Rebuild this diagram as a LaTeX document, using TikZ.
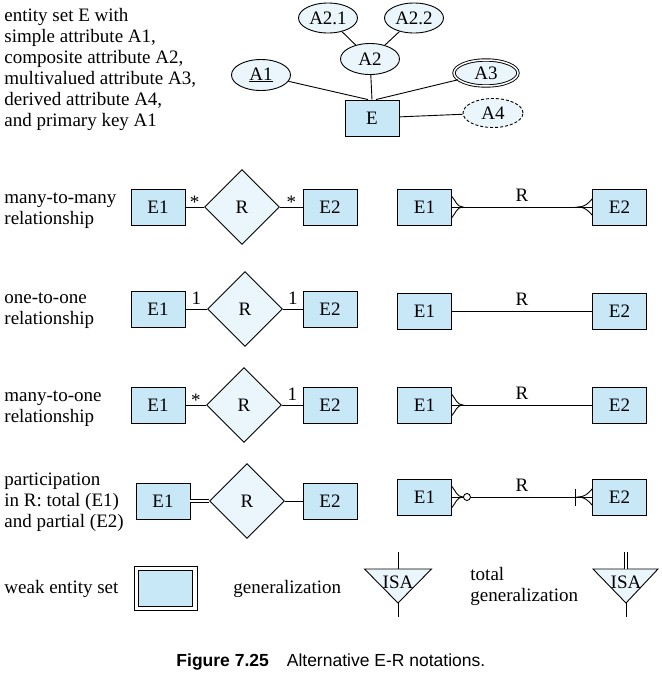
\documentclass[tikz,border=0pt]{standalone}
\usepackage{fontspec}
\setmainfont{Liberation Serif}
\setsansfont{Liberation Sans}
\usetikzlibrary{shapes.geometric,calc}
\definecolor{entblue}{HTML}{C8E8F8}
\definecolor{attrblue}{HTML}{EAF6FC}
\newcommand{\crowfooteast}[1]{\draw ([yshift=10.5pt]#1.east) to[out=-50,in=180] ([xshift=11pt]#1.east) to[out=180,in=50] ([yshift=-10.5pt]#1.east);}
\newcommand{\crowfootwest}[1]{\draw ([yshift=8pt]#1.west) to[out=-130,in=0] ([xshift=-14pt]#1.west) to[out=0,in=130] ([yshift=-8pt]#1.west);}
\begin{document}
\begin{tikzpicture}[x=1pt,y=1pt,line width=0.9pt,font=\fontsize{19}{21}\selectfont]

    \tikzset{
      entity/.style={
        draw,
        fill=entblue,
        minimum width=54pt,
        minimum height=36pt,
        inner sep=0pt,
      },
      attr/.style={draw, ellipse, fill=attrblue, minimum width=59pt, minimum height=31pt, inner sep=0pt},
      rel/.style={draw, diamond, fill=attrblue, minimum size=75pt, inner sep=0pt},
      note/.style={align=left, inner sep=0pt, anchor=north west},
      card/.style={midway, above, inner sep=4pt},
      star/.style={midway, anchor=base, yshift=-1pt},
      rlabel/.style={midway, above, inner sep=5pt},
    }
    \useasboundingbox (0,0) rectangle (662,-673);

    % entity set with its attributes
    \node[note] (intro) at (4,-6.3) {\strut entity set E with\\simple attribute A1,\\composite attribute A2,\\multivalued attribute A3,\\derived attribute A4,\\and primary key A1};
    \node[entity] (e) at (372,-118) {E};
    \node[attr] (a1) at (261,-75) {\underline{A1}};
    \node[attr] (a2) at (370,-59) {A2};
    \node[attr, minimum height=30pt] (a21) at (328,-18) {A2.1};
    \node[attr, minimum height=30pt] (a22) at (414,-18) {A2.2};
    \node[attr, double, double distance=1.5pt, minimum width=64pt, minimum height=26pt] (a3) at (486,-73) {A3};
    \node[attr, dashed, dash pattern=on 3pt off 2pt, minimum width=60pt, minimum height=29pt] (a4) at (493,-113) {A4};
    \draw (a1) -- ([xshift=-4pt]e.north);
    \draw (a2) -- (e.north);
    \draw (a3) -- ([xshift=4pt]e.north);
    \draw (e) -- (a4);
    \draw (a21) -- (a2);
    \draw (a22) -- (a2);

    % many-to-many
    \node[note] (mmtext) at (4,-188.3) {\strut many-to-many\\relationship};
    \node[entity] (mm1) at (158,-207) {E1};
    \node[rel] (mmr) at (242,-207) {R};
    \node[entity] (mm2) at (330,-207) {E2};
    \draw (mm1) -- node[star] {*} (mmr);
    \draw (mmr) -- node[star] {*} (mm2);
    \node[entity] (cmm1) at (424.5,-207) {E1};
    \node[entity] (cmm2) at (619.5,-207) {E2};
    \draw (cmm1.east) -- node[rlabel] {R} (cmm2.west);
    \crowfooteast{cmm1}
    \crowfootwest{cmm2}

    % one-to-one
    \node[note] (ootext) at (4,-288.3) {\strut one-to-one\\relationship};
    \node[entity] (oo1) at (158,-309) {E1};
    \node[rel] (oor) at (245,-309) {R};
    \node[entity] (oo2) at (330,-309) {E2};
    \draw (oo1) -- node[card] {1} (oor);
    \draw (oor) -- node[card] {1} (oo2);
    \node[entity] (coo1) at (424.5,-311) {E1};
    \node[entity] (coo2) at (619.5,-311) {E2};
    \draw (coo1.east) -- node[rlabel] {R} (coo2.west);

    % many-to-one
    \node[note] (motext) at (4,-386.3) {\strut many-to-one\\relationship};
    \node[entity] (mo1) at (158,-405) {E1};
    \node[rel] (mor) at (244,-405) {R};
    \node[entity] (mo2) at (330,-405) {E2};
    \draw (mo1) -- node[star] {*} (mor);
    \draw (mor) -- node[card] {1} (mo2);
    \node[entity] (cmo1) at (424.5,-405) {E1};
    \node[entity] (cmo2) at (619.5,-405) {E2};
    \draw (cmo1.east) -- node[rlabel] {R} (cmo2.west);
    \crowfooteast{cmo1}

    % participation
    \node[note] (pttext) at (4,-470.3) {\strut participation\\in R: total (E1)\\and partial (E2)};
    \node[entity] (pt1) at (163,-501) {E1};
    \node[rel] (ptr) at (247,-501) {R};
    \node[entity] (pt2) at (330,-501) {E2};
    \draw[double, double distance=2pt] (pt1) -- (ptr);
    \draw (ptr) -- (pt2);
    \node[entity] (cpt1) at (424.5,-497) {E1};
    \node[entity] (cpt2) at (619.5,-497) {E2};
    \draw (cpt1.east) -- node[rlabel] {R} (cpt2.west);
    \crowfooteast{cpt1}
    \crowfootwest{cpt2}
    \node[draw, circle, fill=white, minimum size=7pt, inner sep=0pt] (cpto) at ($(cpt1.east)+(15,0)$) {};
    \draw ([shift={(-17,8.5)}]cpt2.west) -- ([shift={(-17,-8.5)}]cpt2.west);

    % weak entity set and generalization
    \node[anchor=base west, inner sep=0pt] (weaktext) at (4,-593) {weak entity set};
    \node[draw, fill=white, minimum width=63pt, minimum height=44pt, inner sep=0pt] (weak) at (165.5,-588) {};
    \node[entity] (weakin) at (weak) {};
    \node[anchor=base west, inner sep=0pt] (gentext) at (233,-593) {generalization};
    \coordinate (g1) at (398,-582);
    \coordinate (g1in) at (398,-552);
    \coordinate (g1out) at (398,-617);
    \draw[fill=attrblue] ($(g1)+(-33.5,13)$) coordinate (g1top) -- ($(g1)+(33.5,13)$) -- ($(g1)+(0,-21)$) coordinate (g1tip) -- cycle;
    \node (isa1) at (g1) {ISA};
    \draw (g1in) -- (g1 |- g1top);
    \draw (g1tip) -- (g1out);
    \node[note] (totaltext) at (470,-565.3) {\strut total\\generalization};
    \coordinate (g2) at (626,-582);
    \coordinate (g2in) at (626,-552);
    \coordinate (g2out) at (626,-617);
    \draw[fill=attrblue] ($(g2)+(-33,13)$) coordinate (g2top) -- ($(g2)+(32,13)$) -- ($(g2)+(0,-21)$) coordinate (g2tip) -- cycle;
    \node (isa2) at (g2) {ISA};
    \draw[double, double distance=2.5pt] (g2in) -- (g2 |- g2top);
    \draw (g2tip) -- (g2out);

    \node[anchor=base west, inner sep=0pt, font=\sffamily\fontsize{17.5}{21}\selectfont] (caption) at (176,-666) {\textbf{Figure 7.25}\hspace{18pt}Alternative E-R notations.};

\end{tikzpicture}
\end{document}
